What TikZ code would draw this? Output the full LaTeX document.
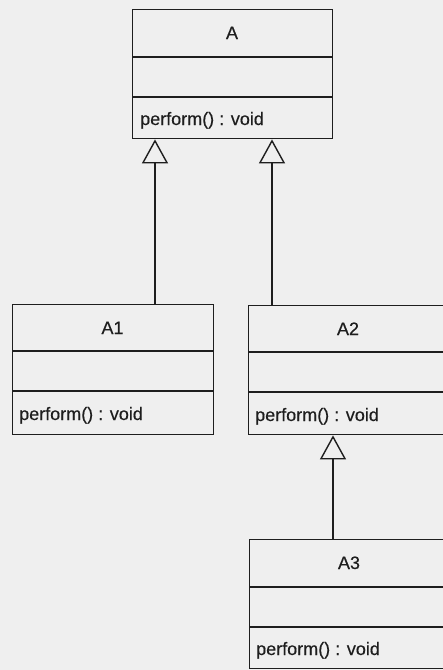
\documentclass[tikz,border=0pt]{standalone}
\usepackage{fontspec}
\setmainfont{Liberation Sans}
\newfontfamily\umlfont{Liberation Sans}[FakeBold=0.35]
\usetikzlibrary{arrows.meta}
\definecolor{bg}{HTML}{EFEFEF}
\definecolor{ink}{HTML}{1E1E1E}
\begin{document}
\begin{tikzpicture}[x=1pt,y=-1pt,
  classbox/.style={draw=ink, line width=1.4pt, minimum width=200pt, minimum height=129pt, anchor=north west, inner sep=0pt},
  divider/.style={draw=ink, line width=1.4pt},
  cname/.style={anchor=base, font=\umlfont\fontsize{18}{20}\selectfont, text=ink, inner sep=0pt},
  cop/.style={anchor=base west, font=\umlfont\fontsize{18}{20}\selectfont, text=ink, inner sep=0pt},
  gen/.style={draw=ink, line width=1.4pt, -{Triangle[open, length=24pt, width=26pt, line width=1.4pt]}}]
\useasboundingbox (0,0) rectangle (443,670);
\clip (0,0) rectangle (443,670);
\fill[bg] (0,0) rectangle (443,670);

% class A
\node[classbox] (A) at (132,9) {};
\draw[divider] (A.north west) ++(0,48) -- ++(200,0);
\draw[divider] (A.north west) ++(0,88) -- ++(200,0);
\node[cname] (An) at (232,39) {A};
\node[cop] (Ao) at (140,125) {perform() : void};

% class A1
\node[classbox, minimum height=130pt, minimum width=201pt] (A1) at (12,304) {};
\draw[divider] (A1.north west) ++(0,47) -- ++(201,0);
\draw[divider] (A1.north west) ++(0,87) -- ++(201,0);
\node[cname] (A1n) at (112.5,334) {A1};
\node[cop] (A1o) at (19,420) {perform() : void};

% class A2
\node[classbox] (A2) at (248,305) {};
\draw[divider] (A2.north west) ++(0,47) -- ++(200,0);
\draw[divider] (A2.north west) ++(0,87) -- ++(200,0);
\node[cname] (A2n) at (348,335) {A2};
\node[cop] (A2o) at (255,421) {perform() : void};

% class A3
\node[classbox] (A3) at (249,539) {};
\draw[divider] (A3.north west) ++(0,48) -- ++(200,0);
\draw[divider] (A3.north west) ++(0,88) -- ++(200,0);
\node[cname] (A3n) at (349,569) {A3};
\node[cop] (A3o) at (256,655) {perform() : void};

% generalizations
\coordinate (c1) at (155,0);
\coordinate (c2) at (272,0);
\coordinate (c3) at (333,0);
\draw[gen] (c1 |- A1.north) -- (c1 |- A.south);
\draw[gen] (c2 |- A2.north) -- (c2 |- A.south);
\draw[gen] (c3 |- A3.north) -- (c3 |- A2.south);
\end{tikzpicture}
\end{document}
